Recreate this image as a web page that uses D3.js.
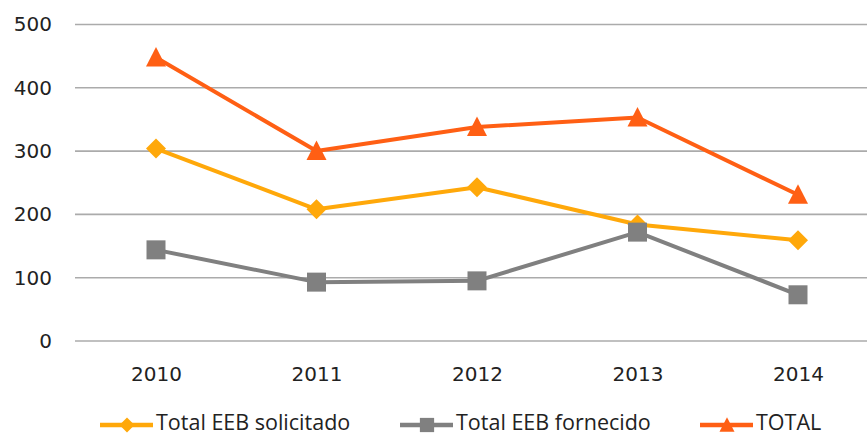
<!DOCTYPE html>
<html><head><meta charset="utf-8">
<script src="https://cdn.jsdelivr.net/npm/d3@7"></script>
<style>html,body{margin:0;padding:0;background:#fff;overflow:hidden}</style>
</head><body>
<svg id="c" width="867" height="435"></svg>
<script>
const categories = ["2010", "2011", "2012", "2013", "2014"];
const solicitado = [304, 208, 243, 184, 159];
const fornecido = [144, 93, 95, 172, 73];
const total = [448, 300, 338, 353, 231];
const yTicks = [0, 100, 200, 300, 400, 500];
const seriesNames = ["Total EEB solicitado", "Total EEB fornecido", "TOTAL"];

const svg = d3.select("#c");
const x = d3.scalePoint().domain(categories).range([156, 798]);
const y = d3.scaleLinear().domain([0, 500]).range([341, 24.5]);

// gridlines
svg.append("g").selectAll("line").data(yTicks).join("line")
  .attr("x1", 75).attr("x2", 880)
  .attr("y1", d => y(d)).attr("y2", d => y(d))
  .attr("stroke", "#ABABAB").attr("stroke-width", 1.6);

// y axis labels
const yAxis = d3.axisLeft(y).tickValues(yTicks).tickSize(0).tickPadding(0);
const gy = svg.append("g").attr("transform", "translate(52,0)").call(yAxis);
gy.select(".domain").remove();
gy.selectAll("text").attr("font-family", "DejaVu Sans").attr("font-size", 20).attr("fill", "#222");

const xAxis = d3.axisBottom(x).tickSize(0).tickPadding(0);
const gx = svg.append("g").attr("transform", "translate(0,381)").call(xAxis);
gx.select(".domain").remove();
gx.selectAll("text").attr("font-family", "DejaVu Sans").attr("font-size", 20).attr("fill", "#222").attr("y", 0).attr("dy", 0);

const colors = ["#FFA80A", "#808080", "#FF5F14"];
const marker = {
  diamond: (s) => `M0,${-s}L${s},0L0,${s}L${-s},0Z`,
  square: (s) => `M${-s},${-s}H${s}V${s}H${-s}Z`,
  triangle: (s) => `M0,${-s*1.05}L${s},${s*0.9}L${-s},${s*0.9}Z`
};
const series = [
  {name: seriesNames[0], values: solicitado, color: colors[0], shape: "diamond", size: 10},
  {name: seriesNames[1], values: fornecido, color: colors[1], shape: "square", size: 9.5},
  {name: seriesNames[2], values: total, color: colors[2], shape: "triangle", size: 10}
];
const line = d3.line().x((d, i) => x(categories[i])).y(d => y(d));
series.forEach(s => {
  const g = svg.append("g");
  g.append("path").attr("d", line(s.values)).attr("fill", "none")
    .attr("stroke", s.color).attr("stroke-width", 4).attr("stroke-linejoin", "round");
  g.selectAll("path.m").data(s.values).join("path").attr("class", "m")
    .attr("transform", (d, i) => `translate(${x(categories[i])},${y(d)})`)
    .attr("d", marker[s.shape](s.size)).attr("fill", s.color);
});

// legend
const legX = [100, 400, 700];
const legY = 425;
series.forEach((s, i) => {
  const g = svg.append("g").attr("transform", `translate(${legX[i]},${legY})`);
  g.append("line").attr("x1", 0).attr("x2", 53).attr("stroke", s.color).attr("stroke-width", 4.5);
  g.append("path").attr("transform", "translate(27,0)").attr("d", marker[s.shape](s.size * 0.75)).attr("fill", s.color);
  g.append("text").attr("x", 56).attr("y", 4.5)
    .attr("font-family", "Open Sans").attr("font-size", 21.5).attr("fill", "#222").text(s.name);
});
</script>
</body></html>
